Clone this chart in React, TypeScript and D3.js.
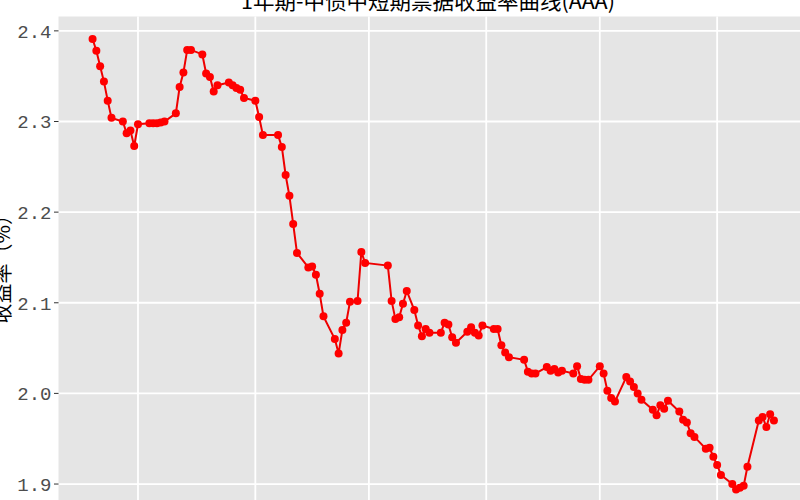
import React from 'react';
import * as d3 from 'd3';

// 1Y MTN (AAA) yield, 2024 trading days
const dates = [
  '2024-02-18','2024-02-19','2024-02-20','2024-02-21','2024-02-22','2024-02-23',
  '2024-02-26','2024-02-27','2024-02-28','2024-02-29','2024-03-01',
  '2024-03-04','2024-03-05','2024-03-06','2024-03-07','2024-03-08',
  '2024-03-11','2024-03-12','2024-03-13','2024-03-14','2024-03-15',
  '2024-03-18','2024-03-19','2024-03-20','2024-03-21','2024-03-22',
  '2024-03-25','2024-03-26','2024-03-27','2024-03-28','2024-03-29',
  '2024-04-01','2024-04-02','2024-04-03','2024-04-07',
  '2024-04-08','2024-04-09','2024-04-10','2024-04-11','2024-04-12',
  '2024-04-15','2024-04-16','2024-04-17','2024-04-18','2024-04-19',
  '2024-04-22','2024-04-23','2024-04-24','2024-04-25','2024-04-26',
  '2024-04-28','2024-04-29','2024-04-30',
  '2024-05-06','2024-05-07','2024-05-08','2024-05-09','2024-05-10','2024-05-11',
  '2024-05-13','2024-05-14','2024-05-15','2024-05-16','2024-05-17',
  '2024-05-20','2024-05-21','2024-05-22','2024-05-23','2024-05-24',
  '2024-05-27','2024-05-28','2024-05-29','2024-05-30','2024-05-31',
  '2024-06-03','2024-06-04','2024-06-05','2024-06-06','2024-06-07',
  '2024-06-11','2024-06-12','2024-06-13','2024-06-14',
  '2024-06-17','2024-06-18','2024-06-19','2024-06-20','2024-06-21',
  '2024-06-24','2024-06-25','2024-06-26','2024-06-27','2024-06-28',
  '2024-07-01','2024-07-02','2024-07-03','2024-07-04','2024-07-05',
  '2024-07-08','2024-07-09','2024-07-10','2024-07-11','2024-07-12',
  '2024-07-15','2024-07-16','2024-07-17','2024-07-18','2024-07-19',
  '2024-07-22','2024-07-23','2024-07-24','2024-07-25','2024-07-26',
  '2024-07-29','2024-07-30','2024-07-31','2024-08-01','2024-08-02',
  '2024-08-05','2024-08-06','2024-08-07','2024-08-08','2024-08-09',
  '2024-08-12','2024-08-13','2024-08-14','2024-08-15','2024-08-16',
];

const yields = [
  2.391, 2.378, 2.361, 2.344, 2.323, 2.304,
  2.300, 2.287, 2.290, 2.273, 2.297,
  2.298, 2.298, 2.298, 2.299, 2.300,
  2.309, 2.338, 2.354, 2.379, 2.379,
  2.374, 2.353, 2.349, 2.333, 2.340,
  2.343, 2.340, 2.337, 2.335, 2.326,
  2.323, 2.305, 2.285, 2.285,
  2.272, 2.241, 2.218, 2.187, 2.155,
  2.139, 2.140, 2.131, 2.110, 2.085,
  2.060, 2.044, 2.070, 2.078, 2.101,
  2.102, 2.156, 2.144,
  2.141, 2.102, 2.082, 2.084, 2.099, 2.113,
  2.092, 2.075, 2.063, 2.071, 2.067,
  2.067, 2.078, 2.076, 2.062, 2.056,
  2.068, 2.073, 2.067, 2.064, 2.075,
  2.071, 2.071, 2.053, 2.045, 2.040,
  2.037, 2.024, 2.022, 2.022,
  2.029, 2.025, 2.027, 2.023, 2.025,
  2.022, 2.030, 2.016, 2.015, 2.015,
  2.030, 2.022, 2.003, 1.995, 1.991,
  2.018, 2.013, 2.007, 2.000, 1.993,
  1.982, 1.976, 1.987, 1.983, 1.992,
  1.980, 1.971, 1.968, 1.956, 1.952,
  1.939, 1.940, 1.930, 1.921, 1.910,
  1.900, 1.894, 1.896, 1.898, 1.919,
  1.970, 1.974, 1.963, 1.977, 1.970,
];

const yTicks = [1.9, 2.0, 2.1, 2.2, 2.3, 2.4];
const title = '1年期-中债中短期票据收益率曲线(AAA)';
const yTitle = '收益率（%）';

const W = 800, H = 500;
const panel = { left: 58.5, top: 16.5, right: 808, bottom: 512 };

export default function App() {
  const parse = d3.utcParse('%Y-%m-%d');
  const pts = dates.map((d, i) => ({ date: parse(d)!, v: yields[i] }));

  // ggplot-like 5% expansion on both axes
  const [t0, t1] = d3.extent(pts, d => d.date.getTime()) as [number, number];
  const tp = (t1 - t0) * 0.05;
  const x = d3.scaleUtc()
    .domain([new Date(t0 - tp), new Date(t1 + tp)])
    .range([panel.left, panel.right]);
  const [v0, v1] = d3.extent(pts, d => d.v) as [number, number];
  const vp = (v1 - v0) * 0.05;
  const y = d3.scaleLinear().domain([v0 - vp, v1 + vp]).range([panel.bottom, panel.top]);

  const line = d3.line<{ date: Date; v: number }>().x(d => x(d.date)).y(d => y(d.v));
  const months = x.ticks(d3.utcMonth.every(1)!);
  const fmt = d3.format('.1f');
  const cy = (panel.top + panel.bottom) / 2;

  return (
    <svg width={W} height={H} style={{ position: 'absolute', left: 0, top: 0, background: '#fff' }}>
      <rect x={panel.left} y={panel.top} width={panel.right - panel.left} height={panel.bottom - panel.top} fill="#e5e5e5" />
      {yTicks.map(t => (
        <line key={'h' + t} x1={panel.left} x2={panel.right} y1={y(t)} y2={y(t)} stroke="#fff" strokeWidth={1.8} />
      ))}
      {months.map(m => (
        <line key={'v' + m.getTime()} x1={x(m)} x2={x(m)} y1={panel.top} y2={panel.bottom} stroke="#fff" strokeWidth={1.8} />
      ))}
      <path d={line(pts)!} fill="none" stroke="#ee0000" strokeWidth={2} />
      {pts.map((d, i) => (
        <circle key={i} cx={x(d.date)} cy={y(d.v)} r={4} fill="#ff0000" />
      ))}
      {yTicks.map(t => (
        <g key={'t' + t}>
          <line x1={panel.left - 4.5} x2={panel.left} y1={y(t)} y2={y(t)} stroke="#333" strokeWidth={1} />
          <text x={panel.left - 7} y={y(t)} dy="0.36em" textAnchor="end"
            fontFamily="'Liberation Mono', monospace" fontSize={19} fill="#4d4d4d">{fmt(t)}</text>
        </g>
      ))}
      <text x={428} y={9} textAnchor="middle" fontFamily="'Noto Sans CJK SC', sans-serif" fontSize={21.5} fill="#000">{title}</text>
      <text transform={`translate(10,${cy}) rotate(-90)`} textAnchor="middle"
        fontFamily="'Noto Sans CJK SC', sans-serif" fontSize={20} fill="#000">{yTitle}</text>
    </svg>
  );
}
